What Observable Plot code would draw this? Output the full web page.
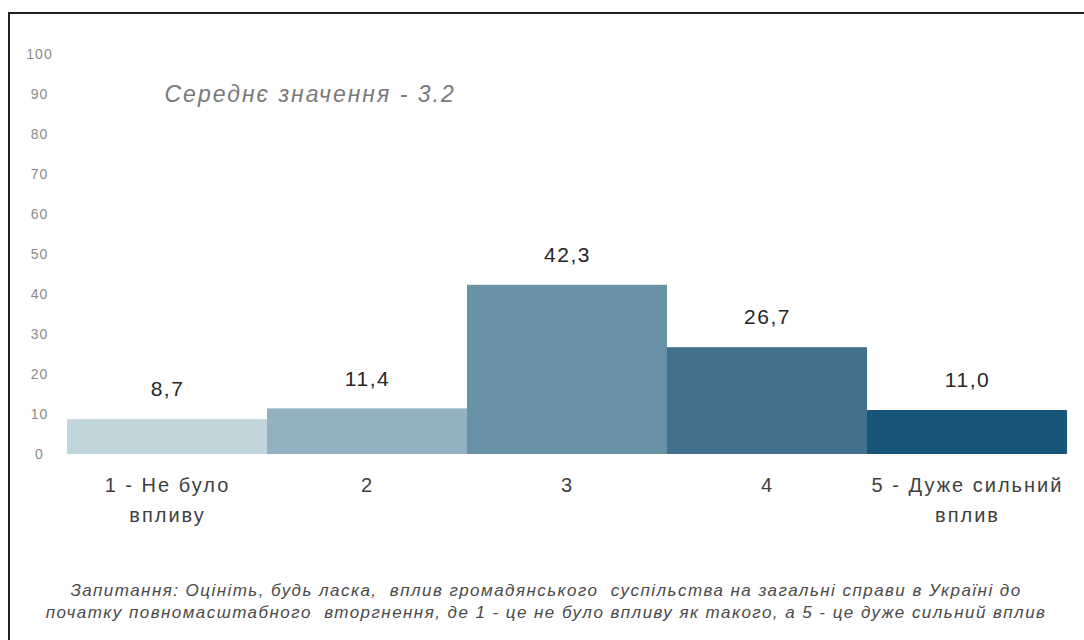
<!DOCTYPE html>
<html>
<head>
<meta charset="utf-8">
<script src="https://cdn.jsdelivr.net/npm/d3@7"></script>
<script src="https://cdn.jsdelivr.net/npm/@observablehq/plot@0.6"></script>
<style>
  html, body { margin: 0; padding: 0; background: #fff; }
  body { width: 1084px; height: 640px; position: relative; overflow: hidden; font-family: "Liberation Sans", Arial, sans-serif; }
  #frame { position: absolute; left: 8px; top: 12px; width: 1100px; height: 700px; border-left: 2px solid #231f20; border-top: 2px solid #231f20; box-sizing: border-box; }
  #chart { position: absolute; left: 0; top: 0; }
  #chart svg { overflow: visible; }
  .vlabel text { letter-spacing: 1.5px; }
  .xax text { letter-spacing: 2px; }
  .yax text { letter-spacing: 1px; }
  .ttl text { letter-spacing: 2px; }
  #caption { position: absolute; left: 0; width: 1092px; top: 580px; text-align: center; font-style: italic; font-size: 17px; line-height: 22px; color: #4a4a4a; font-family: "Liberation Sans", Arial, sans-serif; letter-spacing: 1.45px; }
</style>
</head>
<body>
<div id="frame"></div>
<div id="chart"></div>
<div id="caption">Запитання: Оцініть, будь ласка,&nbsp; вплив громадянського&nbsp; суспільства на загальні справи в Україні до<br>початку повномасштабного&nbsp; вторгнення, де 1 - це не було впливу як такого, а 5 - це дуже сильний вплив</div>
<script>
const categories = ["1 - Не було\nвпливу", "2", "3", "4", "5 - Дуже сильний\nвплив"];
const values = [8.7, 11.4, 42.3, 26.7, 11.0];
const colors = ["#c2d5dd", "#94b1c1", "#6891a5", "#41718d", "#175676"];
const yTicks = [0, 10, 20, 30, 40, 50, 60, 70, 80, 90, 100];
const meanText = "Середнє значення - 3.2";

const data = categories.map((c, i) => ({cat: c, value: values[i], color: colors[i]}));
const fmt = v => v.toFixed(1).replace(".", ",");

const chart = Plot.plot({
  width: 1084,
  height: 540,
  marginLeft: 66,
  marginRight: 16,
  marginTop: 54,
  marginBottom: 86,
  style: {fontFamily: "'Liberation Sans', Arial, sans-serif", background: "transparent"},
  x: {domain: categories, padding: 0, label: null},
  y: {domain: [0, 100], label: null},
  marks: [
    Plot.barY(data, {x: "cat", y: "value", fill: d => d.color}),
    Plot.text(data, {x: "cat", y: "value", text: d => fmt(d.value), dy: -30, fontSize: 21, fill: "#262626", className: "vlabel"}),
    Plot.axisY({ticks: yTicks, tickSize: 0, tickPadding: 27, textAnchor: "middle", fontSize: 14, fill: "#8a8a8a", label: null, className: "yax"}),
    Plot.axisX({tickSize: 0, tickPadding: 16, fontSize: 20, lineHeight: 1.5, fill: "#404040", label: null, className: "xax"}),
    Plot.text([meanText], {text: d => d, frameAnchor: "top-left", textAnchor: "start", dx: 98, dy: 31, fontSize: 23, fontStyle: "italic", fill: "#7a7a7a", className: "ttl"})
  ]
});
document.getElementById("chart").appendChild(chart);
</script>
</body>
</html>
